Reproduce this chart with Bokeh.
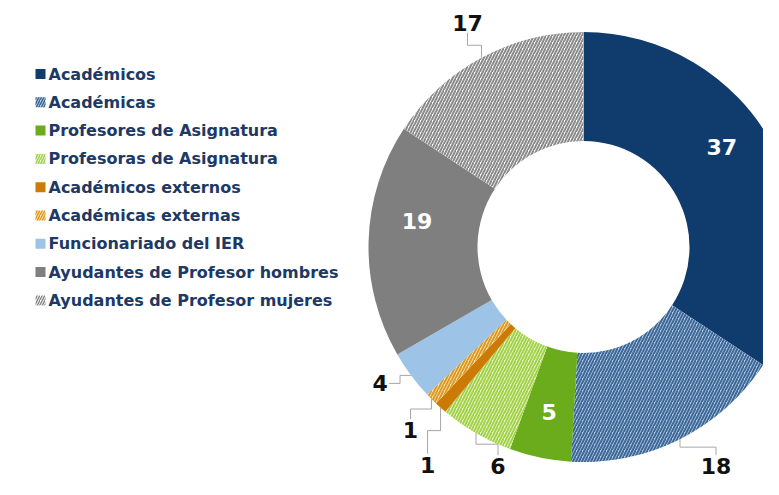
import math
from bokeh.plotting import figure
from bokeh.models import Range1d
from bokeh.core.properties import value
from bokeh.embed import file_html
from bokeh.resources import INLINE

# ---- data ----
categories = [
    "Académicos",
    "Académicas",
    "Profesores de Asignatura",
    "Profesoras de Asignatura",
    "Académicos externos",
    "Académicas externas",
    "Funcionariado del IER",
    "Ayudantes de Profesor hombres",
    "Ayudantes de Profesor mujeres",
]
counts = [37, 18, 5, 6, 1, 1, 4, 19, 17]

# ---- styles ----
fill_colors = ["#0f3c6c", "#b8cfe8", "#6aac1c", "#eef7d2", "#cc7a06",
               "#fde7ae", "#9dc3e6", "#7f7f7f", "#ffffff"]
hatch_colors = [None, "#3d6796", None, "#a2d24a", None,
                "#dc9a2a", None, None, "#8a8a8a"]
label_inside = [True, False, True, False, False, False, False, True, False]
# pixel offsets of each value label from its anchor (pixels, y down)
label_offsets = [(-3, -24), (36, 27), (-2, 8), (22, 33), (-13, 57),
                 (-21, 31), (-31, 8), (-6, -21), (-14, -35)]
leader_mode = [None, "v", None, "v", "v", "v", "h", None, "v"]

W, H = 763, 479
CX, CY = 583, 246.5          # pixels from top-left of the figure
R_OUT, R_IN = 215, 106


def Y(py):
    return H - py


p = figure(width=W, height=H, output_backend="svg", toolbar_location=None,
           x_range=Range1d(0, W), y_range=Range1d(0, H),
           min_border=0, outline_line_color=None)
p.axis.visible = False
p.grid.visible = False
p.background_fill_color = "white"
p.border_fill_color = "white"

total = sum(counts)
starts, ends, mids = [], [], []
cum = 0
for c in counts:
    a0 = cum / total * 2 * math.pi
    cum += c
    a1 = cum / total * 2 * math.pi
    starts.append(math.pi / 2 - a0)
    ends.append(math.pi / 2 - a1)
    mids.append((a0 + a1) / 2)   # clockwise from top

for i, c in enumerate(counts):
    kw = dict(fill_color=fill_colors[i], line_color=None)
    if hatch_colors[i]:
        kw.update(hatch_pattern="/", hatch_color=hatch_colors[i],
                  hatch_scale=6, hatch_weight=2)
    p.annular_wedge(x=CX, y=Y(CY), inner_radius=R_IN, outer_radius=R_OUT,
                    start_angle=starts[i], end_angle=ends[i],
                    direction="clock", **kw)

# value labels and leader lines
FS = 22
for i, c in enumerate(counts):
    th = mids[i]
    r = (R_IN + R_OUT) / 2 if label_inside[i] else R_OUT
    ax = CX + r * math.sin(th)
    ay = CY - r * math.cos(th)
    lx = ax + label_offsets[i][0]
    ly = ay + label_offsets[i][1]
    color = "white" if label_inside[i] else "#111111"
    p.text(x=[lx], y=[Y(ly)], text=[str(c)], text_color=color,
           text_font=value("DejaVu Sans"), text_font_style="bold",
           text_font_size=f"{FS}px", text_align="center",
           text_baseline="middle")
    mode = leader_mode[i]
    if mode == "v":
        edge = ly - 11 if ly > ay else ly + 10
        my = (edge + ay) / 2
        xs = [lx, lx, ax, ax]
        ys = [edge, my, my, ay]
        p.line(x=xs, y=[Y(v) for v in ys], line_color="#a6a6a6", line_width=1)
    elif mode == "h":
        edge = lx + 9
        mx = (edge + ax) / 2
        xs = [edge, mx, mx, ax]
        ys = [ly, ly, ay, ay]
        p.line(x=xs, y=[Y(v) for v in ys], line_color="#a6a6a6", line_width=1)

# legend (manual)
LEG_X, LEG_Y0, LEG_DY = 40, 73.5, 28.3
for i, name in enumerate(categories):
    yy = LEG_Y0 + i * LEG_DY
    kw = dict(fill_color=fill_colors[i], line_color=None)
    if hatch_colors[i]:
        kw.update(hatch_pattern="/", hatch_color=hatch_colors[i],
                  hatch_scale=5, hatch_weight=1.5)
    p.rect(x=[LEG_X], y=[Y(yy)], width=10, height=10, **kw)
    p.text(x=[LEG_X + 8], y=[Y(yy)], text=[name], text_color="#203864",
           text_font=value("DejaVu Sans"), text_font_style="bold",
           text_font_size="16px", text_align="left", text_baseline="middle")

open("out.html", "w").write(file_html(p, INLINE))
